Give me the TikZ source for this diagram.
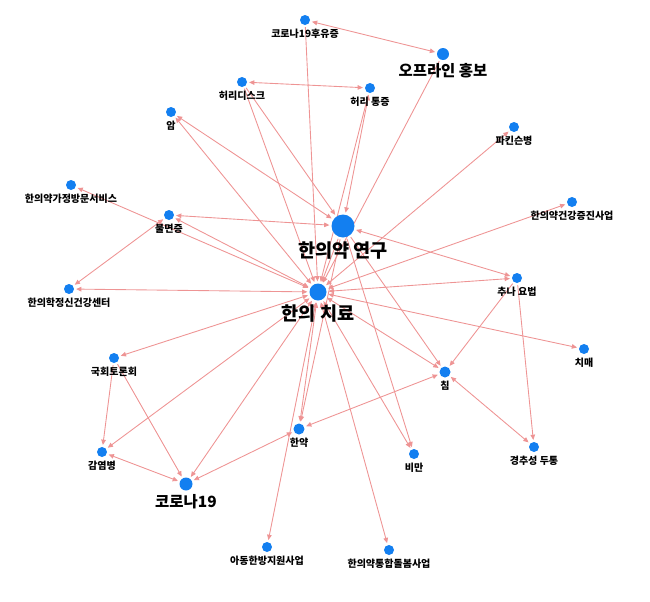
\documentclass[tikz,border=0pt]{standalone}
\usepackage{fontspec}
\setmainfont{Noto Sans CJK KR}
\usepackage{xcolor}
\usepackage{tikz}
\usetikzlibrary{arrows.meta,backgrounds}
\definecolor{DotBlue}{HTML}{137FF0}
\definecolor{Link}{HTML}{EE9494}

\begin{document}
\begin{tikzpicture}[x=0.02cm,y=-0.02cm,>={Triangle[length=3pt,width=2.6pt]},label distance=1.8pt,
  dot/.style={circle,fill=DotBlue,inner sep=0pt,minimum size=#1*0.02cm},dot/.default=10,
  lbl/.style={font=\bfseries\fontsize{5.7}{6}\selectfont,inner sep=0pt},
  midlbl/.style={font=\bfseries\fontsize{8.8}{9}\selectfont,inner sep=0pt},
  biglbl/.style={font=\bfseries\fontsize{10.6}{11}\selectfont,inner sep=0pt},
  link/.style={Link,line width=0.5pt,shorten >=1pt,shorten <=1pt}]
  \useasboundingbox (0,0) rectangle (650,602);
  % hubs
  \node[dot=23,label={[biglbl]below:한의약 연구}] (research) at (343,226) {};
  \node[dot=17,label={[biglbl]below:한의 치료}] (treat) at (318,292) {};
  % topics
  \node[dot,label={[lbl]below:코로나19후유증}] (hoo) at (305,20) {};
  \node[dot=12,label={[midlbl]below:오프라인 홍보}] (promo) at (443,54) {};
  \node[dot,label={[lbl]below:허리디스크}] (disc) at (242,82) {};
  \node[dot,label={[lbl]below:허리 통증}] (back) at (370,88) {};
  \node[dot,label={[lbl]below:암}] (cancer) at (171,112) {};
  \node[dot,label={[lbl]below:파킨슨병}] (park) at (514,127) {};
  \node[dot,label={[lbl]below:한의약가정방문서비스}] (homevisit) at (71,185) {};
  \node[dot,label={[lbl]below:불면증}] (insom) at (169,215) {};
  \node[dot,label={[lbl]below:한의약건강증진사업}] (health) at (572,202) {};
  \node[dot,label={[lbl]below:추나 요법}] (chuna) at (517,278) {};
  \node[dot,label={[lbl]below:한의학정신건강센터}] (mental) at (69,289) {};
  \node[dot,label={[lbl]below:치매}] (dementia) at (584,349) {};
  \node[dot,label={[lbl]below:국회토론회}] (forum) at (114,358) {};
  \node[dot=11,label={[lbl]below:침}] (acu) at (445,372) {};
  \node[dot=11,label={[lbl]below:한약}] (herb) at (299,429) {};
  \node[dot,label={[lbl]below:비만}] (obesity) at (414,454) {};
  \node[dot,label={[lbl]below:경추성 두통}] (headache) at (534,447) {};
  \node[dot,label={[lbl]below:감염병}] (infect) at (102,452) {};
  \node[dot=13,label={[midlbl]below:코로나19}] (covid) at (186,484) {};
  \node[dot,label={[lbl]below:아동한방지원사업}] (child) at (267,547) {};
  \node[dot,label={[lbl]below:한의약통합돌봄사업}] (care) at (389,550) {};
  % links
  \begin{scope}[on background layer]
    \draw[link,<->] (hoo) -- (promo); \draw[link,->] (hoo) -- (treat); \draw[link,->] (promo) -- (treat);
    \draw[link,<->] (disc) -- (back); \draw[link,->] (disc) -- (research); \draw[link,->] (disc) -- (treat);
    \draw[link,<->] (back) -- (research); \draw[link,->] (back) -- (treat);
    \draw[link,<->] (cancer) -- (research); \draw[link,<->] (cancer) -- (treat);
    \draw[link,<->] (treat) -- (park); \draw[link,<->] (homevisit) -- (treat);
    \draw[link,<->] (insom) -- (research); \draw[link,<->] (insom) -- (treat);
    \draw[link,<->] (insom) -- (mental); \draw[link,<->] (mental) -- (treat);
    \draw[link,<->] (treat) -- (health);
    \draw[link,<->] (chuna) -- (research); \draw[link,<->] (chuna) -- (treat);
    \draw[link,->] (chuna) -- (acu); \draw[link,->] (chuna) -- (headache);
    \draw[link,<->] (treat) -- (dementia); \draw[link,<->] (treat) -- (forum);
    \draw[link,->] (forum) -- (infect); \draw[link,->] (forum) -- (covid);
    \draw[link,<->] (treat) -- (infect); \draw[link,<->] (treat) -- (covid);
    \draw[link,<->] (infect) -- (covid); \draw[link,<->] (herb) -- (covid);
    \draw[link,<->] (treat) -- (herb); \draw[link,->] (research) -- (herb);
    \draw[link,<->] (herb) -- (acu);
    \draw[link,<->] (treat) -- (child); \draw[link,<->] (treat) -- (care);
    \draw[link,<->] (treat) -- (acu); \draw[link,->] (research) -- (acu);
    \draw[link,<->] (acu) -- (headache);
    \draw[link,->] (research) -- (obesity); \draw[link,<->] (treat) -- (obesity);
    \draw[link,->] (research) -- (treat);
  \end{scope}
\end{tikzpicture}
\end{document}
